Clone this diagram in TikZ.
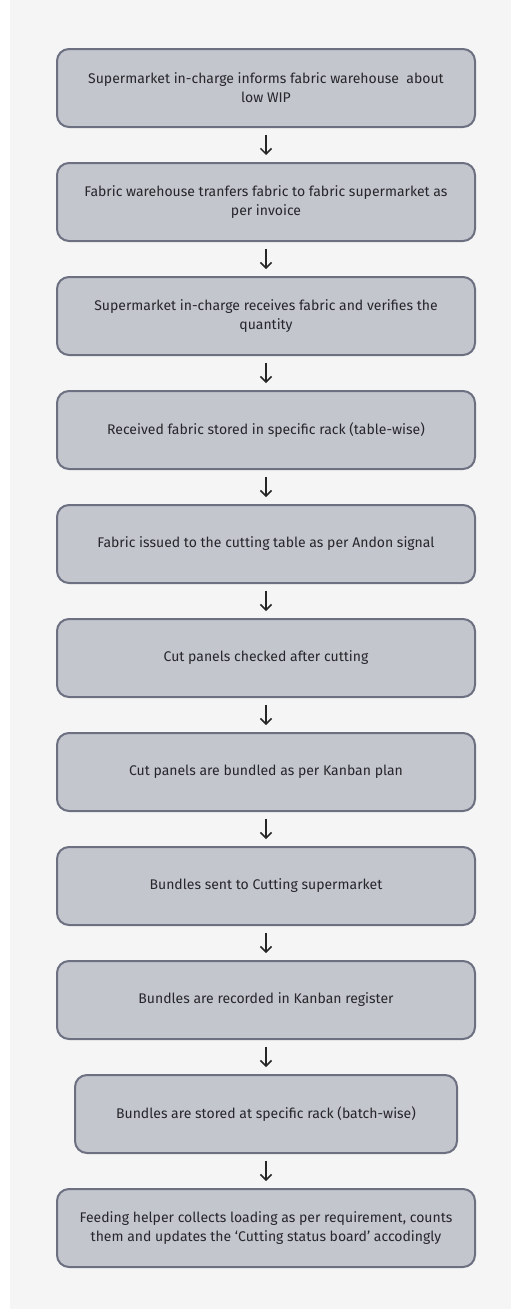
\documentclass[tikz,border=0pt]{standalone}
\usepackage{fontspec}
\setmainfont{Fira Sans}
\usetikzlibrary{arrows.meta}

\definecolor{pagegray}{HTML}{F5F5F5}
\definecolor{boxfill}{HTML}{C4C6CE}
\definecolor{boxline}{HTML}{6C7080}
\definecolor{inktext}{HTML}{26262B}

\tikzset{
  stepbox/.style={draw=boxline, line width=2pt, fill=boxfill, rounded corners=12pt,
    minimum width=418pt, minimum height=78pt, align=center,
    font=\fontsize{14}{19}\selectfont, text=inktext},
  flowarrow/.style={-{Straight Barb[length=5.5pt,width=11pt]}, line width=1.5pt,
    draw=black!85, shorten <=7pt, shorten >=7pt}
}

\begin{document}
\begin{tikzpicture}[x=1pt,y=-1pt]
    \useasboundingbox (0,0) rectangle (511,1309);
    \fill[white] (0,0) rectangle (511,1309);
    \fill[pagegray] (10,0) rectangle (511,1309);

    \node[stepbox] (b1) at (266,88) {Supermarket in-charge informs fabric warehouse \ about\\low WIP};
    \node[stepbox] (b2) at (266,202) {Fabric warehouse tranfers fabric to fabric supermarket as\\per invoice};
    \node[stepbox] (b3) at (266,316) {Supermarket in-charge receives fabric and verifies the\\quantity};
    \node[stepbox] (b4) at (266,430) {Received fabric stored in specific rack (table-wise)};
    \node[stepbox] (b5) at (266,544) {Fabric issued to the cutting table as per Andon signal};
    \node[stepbox] (b6) at (266,658) {Cut panels checked after cutting};
    \node[stepbox] (b7) at (266,772) {Cut panels are bundled as per Kanban plan};
    \node[stepbox] (b8) at (266,886) {Bundles sent to Cutting supermarket};
    \node[stepbox] (b9) at (266,1000) {Bundles are recorded in Kanban register};
    \node[stepbox, minimum width=382pt] (b10) at (266,1114) {Bundles are stored at specific rack (batch-wise)};
    \node[stepbox] (b11) at (266,1228) {Feeding helper collects loading as per requirement, counts\\them and updates the `Cutting status board' accodingly};

    \foreach \i [evaluate=\i as \j using int(\i+1)] in {1,...,10}
        \draw[flowarrow] (b\i) -- (b\j);
\end{tikzpicture}
\end{document}
